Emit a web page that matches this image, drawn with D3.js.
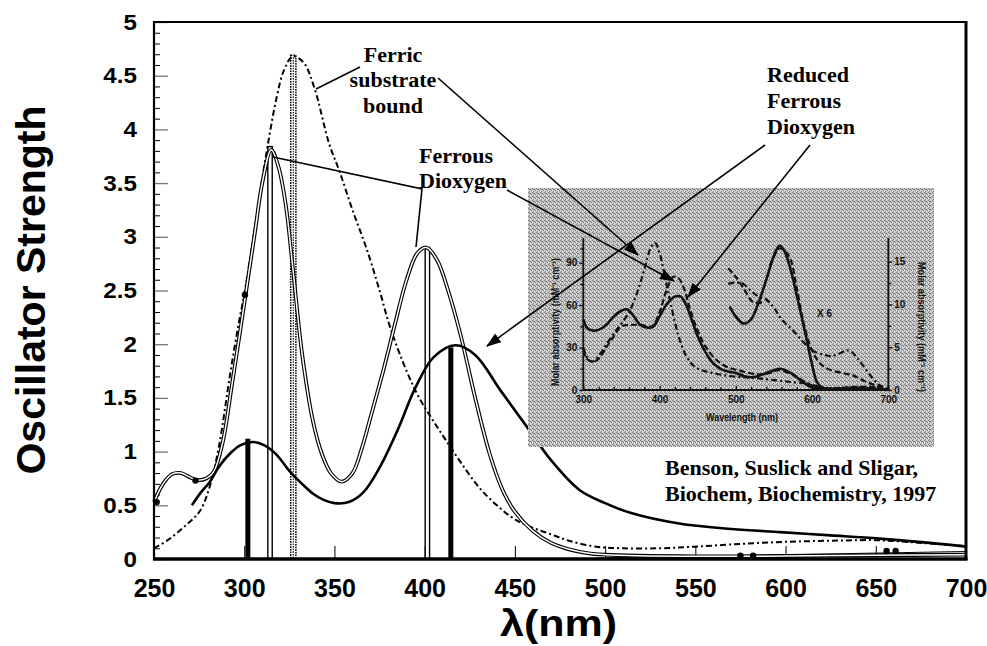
<!DOCTYPE html>
<html><head><meta charset="utf-8">
<script src="https://cdn.jsdelivr.net/npm/d3@7"></script>
<style>body{margin:0;background:#fff}svg{display:block}</style>
</head><body><svg id="c" width="987" height="646"></svg>
<script>
// ---------- data ----------
const xTickVals = [250,300,350,400,450,500,550,600,650,700];
const yTickVals = [0,0.5,1,1.5,2,2.5,3,3.5,4,4.5,5];
const yTickLabels = ["0","0.5","1","1.5","2","2.5","3","3.5","4","4.5","5"];
const yMinorVals = [0.1,0.2,0.3,0.4,0.6,0.7,0.8,0.9,1.1,1.2,1.3,1.4,1.6,1.7,1.8,1.9,2.1,2.2,2.3,2.4,2.6,2.7,2.8,2.9,3.1,3.2,3.3,3.4,3.6,3.7,3.8,3.9,4.1,4.2,4.3,4.4,4.6,4.7,4.8,4.9];

// Ferrous dioxygen (double line)
const ferrousO2 = [[250,0.53],[255,0.70],[260,0.79],[265,0.80],[270,0.76],[274,0.735],[279,0.75],[283,0.81],[288,1.08],[293,1.6],[298,2.15],[302,2.6],[306,3.05],[310,3.5],[315,3.81],[319,3.65],[323,3.3],[327,2.7],[332,1.92],[338,1.29],[343,0.98],[348,0.8],[354,0.72],[360,0.8],[365,1.02],[370,1.32],[377,1.75],[383,2.15],[390,2.6],[396,2.85],[401,2.9],[407,2.78],[413,2.5],[420,2.08],[428,1.5],[436,0.98],[443,0.65],[450,0.44],[460,0.26],[470,0.15],[480,0.09],[490,0.055],[500,0.04],[550,0.025],[600,0.028],[650,0.035],[700,0.04]];
// Ferric substrate bound (dash-dot)
const ferricSub = [[250,0.1],[258,0.18],[266,0.29],[272,0.38],[276,0.46],[281,0.68],[286,1.05],[292,1.7],[297,2.2],[300,2.46],[306,3.1],[312,3.75],[318,4.3],[322,4.55],[327,4.68],[333,4.62],[339,4.38],[347,3.87],[353,3.6],[360,3.25],[368,2.88],[375,2.5],[381,2.15],[390,1.75],[397,1.5],[405,1.28],[412,1.1],[420,0.9],[430,0.67],[440,0.5],[450,0.37],[460,0.29],[470,0.23],[480,0.17],[495,0.115],[510,0.1],[530,0.1],[550,0.115],[575,0.14],[600,0.16],[625,0.17],[650,0.175],[675,0.15],[700,0.12]];
// Reduced ferrous dioxygen (solid)
const reducedO2 = [[271,0.5],[276,0.62],[281,0.72],[286,0.86],[292,0.98],[298,1.06],[305,1.09],[311,1.06],[318,0.97],[325,0.82],[332,0.7],[338,0.61],[344,0.55],[350,0.52],[358,0.53],[366,0.62],[375,0.85],[385,1.2],[395,1.6],[405,1.88],[417,1.99],[428,1.9],[442,1.57],[458,1.2],[470,0.92],[486,0.64],[500,0.52],[514,0.43],[541,0.33],[570,0.28],[597,0.25],[625,0.22],[652,0.19],[680,0.15],[700,0.115]];
// faint baseline trace
const baseTrace = [[495,0.01],[550,0.025],[600,0.04],[650,0.055],[700,0.07]];
// point markers
const dotPts = [[251.5,0.53],[273,0.73],[300.4,2.46],[656,0.075],[661,0.075],[575,0.03],[582,0.03]];
// stick spectra: [nm, strength, style]
const sticks = [[302,1.12,"solid"],[314.3,3.84,"double"],[327.2,4.69,"dotted"],[401.5,2.9,"double"],[414.5,1.97,"solid"]];

// inset (Benson et al.) data: [nm, absorptivity in left-axis units]
const insetTicksX = [300,400,500,600,700];
const insetMinorX = [320,340,360,380,420,440,460,480,520,540,560,580,620,640,660,680];
const insetTicksL = [0,30,60,90];
const insetMinorL = [15,45,75,100];
const insetTicksR = [0,5,10,15];
const insetMinorR = [2.5,7.5,12.5];
const inSolid = [[300,50],[305,44],[312,42],[320,42.5],[330,46],[340,52],[350,56],[357,57],[365,53],[375,46],[385,44],[392,45],[400,52],[410,61],[420,66],[428,66],[435,60],[442,50],[450,38],[460,27],[470,19],[480,15],[490,13],[500,12],[510,10],[520,9],[530,10],[540,12],[550,14],[558,15],[565,14],[575,11],[585,7],[595,3],[605,1],[620,0.5],[650,1.5],[680,1],[700,0]];
const inDash = [[300,28],[305,22],[312,20],[320,22],[330,30],[340,38],[350,45],[360,46],[375,46],[390,45],[400,55],[410,72],[418,80],[425,79],[432,72],[440,57],[450,42],[460,31],[475,21],[490,16],[510,13],[530,11],[545,12],[555,14],[570,12],[590,6],[605,2],[620,1],[650,2],[680,2],[700,0]];
const inDashDot = [[300,30],[306,22],[312,20],[320,24],[330,32],[340,40],[350,47],[360,55],[370,68],[380,85],[388,100],[394,104],[400,97],[407,80],[415,60],[425,38],[435,24],[445,17],[455,14],[470,12],[490,10],[510,9],[525,8.5],[550,7],[575,5.5],[595,4.5],[610,2],[630,1],[660,1.5],[690,1],[700,0]];
const inSolidX6 = [[492,59],[500,52],[510,47],[520,50],[530,62],[540,78],[550,95],[557,102],[563,99],[572,85],[582,62],[592,38],[600,18],[606,6],[612,2],[625,1]];
const inDashX6 = [[545,88],[557,100],[565,98],[572,92],[580,72],[590,45],[600,28],[612,18],[625,14],[640,12],[655,10],[670,6],[685,3],[700,0.5]];
const inDash2X6 = [[490,86],[500,80],[510,72],[523,62],[535,62]];
const inDashDotX6 = [[490,75],[500,76],[510,75],[520,70],[530,66],[540,64],[550,58],[560,50],[575,42],[590,33],[600,28],[615,25],[625,24],[637,26],[645,28],[652,27],[660,22],[670,15],[680,8],[690,3],[700,1]];

// ---------- drawing ----------
const svg = d3.select("#c");
const x = d3.scaleLinear().domain([250,700]).range([154,966]);
const y = d3.scaleLinear().domain([0,5]).range([559,22]);
const line = (sx, sy) => d3.line().x(d=>sx(d[0])).y(d=>sy(d[1])).curve(d3.curveCatmullRom.alpha(0.5));
const mainLine = line(x,y);

const defs = svg.append("defs");
const pat = defs.append("pattern").attr("id","ht").attr("width",4).attr("height",4).attr("patternUnits","userSpaceOnUse");
pat.append("rect").attr("width",4).attr("height",4).attr("fill","#c6c6c6");
[[0,0],[2,1],[1,3],[3,2],[1,1]].forEach(p=>pat.append("rect").attr("x",p[0]).attr("y",p[1]).attr("width",1).attr("height",1).attr("fill","#7e7e7e"));
[[2,3],[0,2]].forEach(p=>pat.append("rect").attr("x",p[0]).attr("y",p[1]).attr("width",1).attr("height",1).attr("fill","#eeeeee"));
const mk = defs.append("marker").attr("id","ah").attr("viewBox","0 0 14 10").attr("refX",13).attr("refY",5)
  .attr("markerWidth",15).attr("markerHeight",11).attr("markerUnits","userSpaceOnUse").attr("orient","auto");
mk.append("path").attr("d","M0,0 L14,5 L0,10 Z").attr("fill","#000");

// axes
const yMinor = d3.axisLeft(y).tickValues(yMinorVals).tickSize(-6).tickFormat("");
svg.append("g").attr("transform","translate(154,0)").call(yMinor)
  .call(g=>g.select(".domain").remove()).selectAll("line").attr("stroke","#000").attr("stroke-width",1);
const yAx = d3.axisLeft(y).tickValues(yTickVals).tickSize(-14).tickPadding(15.5).tickFormat((d,i)=>yTickLabels[i]);
const gy = svg.append("g").attr("transform","translate(154,0)").call(yAx);
gy.select(".domain").remove();
gy.selectAll("line").attr("stroke","#777").attr("stroke-width",1.3);
gy.selectAll("text").attr("font-family","Liberation Sans, Arial, sans-serif").attr("font-weight","bold")
  .attr("font-size",22).attr("fill","#000").attr("transform","scale(1.1,1)");
const xAx = d3.axisBottom(x).tickValues(xTickVals).tickSize(-13).tickPadding(20).tickFormat(d3.format("d"));
const gx = svg.append("g").attr("transform","translate(0,559)").call(xAx);
gx.select(".domain").remove();
gx.selectAll("line").attr("stroke","#000").attr("stroke-width",1);
gx.selectAll("text").attr("font-family","Liberation Sans, Arial, sans-serif").attr("font-weight","bold")
  .attr("font-size",25).attr("fill","#000");

// sticks
sticks.forEach(s=>{
  const cx = x(s[0]), top = y(s[1]), bot = y(0);
  if (s[2]==="solid") {
    svg.append("rect").attr("x",cx-2.5).attr("y",top).attr("width",5).attr("height",bot-top).attr("fill","#000");
  } else if (s[2]==="double") {
    svg.append("rect").attr("x",cx-2.2).attr("y",top).attr("width",4.4).attr("height",bot-top)
      .attr("fill","#fff").attr("stroke","#000").attr("stroke-width",1.4);
  } else {
    svg.append("rect").attr("x",cx-2.6).attr("y",top).attr("width",5.2).attr("height",bot-top)
      .attr("fill","#fff").attr("stroke","#000").attr("stroke-width",1.5).attr("stroke-dasharray","1.6,1");
    svg.append("line").attr("x1",cx).attr("x2",cx).attr("y1",top+2).attr("y2",bot)
      .attr("stroke","#222").attr("stroke-width",1.2).attr("stroke-dasharray","1.6,1");
  }
});

// curves
svg.append("path").attr("d",mainLine(baseTrace)).attr("fill","none").attr("stroke","#000").attr("stroke-width",1);
svg.append("path").attr("d",mainLine(ferricSub)).attr("fill","none").attr("stroke","#000")
  .attr("stroke-width",2).attr("stroke-dasharray","6,3,2,3");
svg.append("path").attr("d",mainLine(ferrousO2)).attr("fill","none").attr("stroke","#000").attr("stroke-width",3.8);
svg.append("path").attr("d",mainLine(ferrousO2)).attr("fill","none").attr("stroke","#fff").attr("stroke-width",1.5);
svg.append("path").attr("d",mainLine(reducedO2)).attr("fill","none").attr("stroke","#000").attr("stroke-width",2.6);
svg.selectAll(".dot").data(dotPts).join("circle").attr("cx",d=>x(d[0])).attr("cy",d=>y(d[1])).attr("r",3.2).attr("fill","#000");

// frame
svg.append("line").attr("x1",154).attr("x2",966).attr("y1",22).attr("y2",22).attr("stroke","#000").attr("stroke-width",2);
svg.append("line").attr("x1",154).attr("x2",154).attr("y1",21).attr("y2",560).attr("stroke","#000").attr("stroke-width",2.2);
svg.append("line").attr("x1",966).attr("x2",966).attr("y1",21).attr("y2",560).attr("stroke","#000").attr("stroke-width",3);
svg.append("line").attr("x1",153).attr("x2",967.5).attr("y1",559).attr("y2",559).attr("stroke","#000").attr("stroke-width",3.5);

// ---------- inset ----------
svg.append("rect").attr("x",528).attr("y",188).attr("width",406).attr("height",259).attr("fill","url(#ht)");
const ix = d3.scaleLinear().domain([300,700]).range([583.3,888.3]);
const iyL = d3.scaleLinear().domain([0,90]).range([390,262.7]);
const iyR = d3.scaleLinear().domain([0,15]).range([390,261.7]);
const inLine = line(ix,iyL);
const ink = "#111";
const ifont = "Liberation Sans, Arial, sans-serif";
svg.append("line").attr("x1",ix(300)).attr("x2",ix(300)).attr("y1",238).attr("y2",390).attr("stroke",ink).attr("stroke-width",1.8);
svg.append("line").attr("x1",ix(700)).attr("x2",ix(700)).attr("y1",238).attr("y2",390).attr("stroke",ink).attr("stroke-width",1.8);
svg.append("line").attr("x1",ix(300)).attr("x2",ix(700)).attr("y1",390).attr("y2",390).attr("stroke",ink).attr("stroke-width",2);
const styleInAx = g=>{g.select(".domain").remove(); g.selectAll("line").attr("stroke",ink).attr("stroke-width",1.4);
  g.selectAll("text").attr("font-family",ifont).attr("font-weight","bold").attr("font-size",10).attr("fill",ink);};
svg.append("g").attr("transform","translate(0,390)").call(d3.axisBottom(ix).tickValues(insetTicksX).tickSize(-4).tickPadding(6).tickFormat(d3.format("d"))).call(styleInAx);
svg.append("g").attr("transform","translate(0,390)").call(d3.axisBottom(ix).tickValues(insetMinorX).tickSize(-3).tickFormat("")).call(styleInAx);
svg.append("g").attr("transform",`translate(${ix(300)},0)`).call(d3.axisLeft(iyL).tickValues(insetTicksL).tickSize(4).tickPadding(2)).call(styleInAx);
svg.append("g").attr("transform",`translate(${ix(300)},0)`).call(d3.axisLeft(iyL).tickValues(insetMinorL).tickSize(3).tickFormat("")).call(styleInAx);
svg.append("g").attr("transform",`translate(${ix(700)},0)`).call(d3.axisRight(iyR).tickValues(insetTicksR).tickSize(4).tickPadding(2)).call(styleInAx);
svg.append("g").attr("transform",`translate(${ix(700)},0)`).call(d3.axisRight(iyR).tickValues(insetMinorR).tickSize(3).tickFormat("")).call(styleInAx);
svg.append("text").attr("x",742).attr("y",421).attr("text-anchor","middle").attr("font-family",ifont).attr("font-weight","bold")
  .attr("font-size",10).attr("fill",ink).attr("textLength",72).attr("lengthAdjust","spacingAndGlyphs").text("Wavelength (nm)");
svg.append("text").attr("transform","translate(559,322) rotate(-90)").attr("text-anchor","middle").attr("font-family",ifont)
  .attr("font-weight","bold").attr("font-size",10).attr("fill",ink).attr("textLength",128).attr("lengthAdjust","spacingAndGlyphs")
  .text("Molar absorptivity (mM⁻¹ cm⁻¹)");
svg.append("text").attr("transform","translate(918,327) rotate(90)").attr("text-anchor","middle").attr("font-family",ifont)
  .attr("font-weight","bold").attr("font-size",10).attr("fill",ink).attr("textLength",130).attr("lengthAdjust","spacingAndGlyphs")
  .text("Molar absorptivity (mM⁻¹ cm⁻¹)");
svg.append("text").attr("x",817).attr("y",317).attr("font-family",ifont).attr("font-weight","bold").attr("font-size",10).attr("fill",ink).text("X 6");
const inCurve = (data, w, dash) => svg.append("path").attr("d",inLine(data)).attr("fill","none").attr("stroke",ink)
  .attr("stroke-width",w).attr("stroke-dasharray",dash||null);
inCurve(inDashDot,2.2,"6,3,2,3");
inCurve(inDash,2.2,"6,3");
inCurve(inSolid,2.6);
inCurve(inDashDotX6,2.2,"6,3,2,3");
inCurve(inDashX6,2.2,"6,3");
inCurve(inDash2X6,2.2,"6,3");
inCurve(inSolidX6,2.6);

// ---------- annotations ----------
const seg = (pts, arrow) => svg.append("path").attr("d",d3.line()(pts)).attr("fill","none").attr("stroke","#000")
  .attr("stroke-width",1.6).attr("marker-end",arrow?"url(#ah)":null);
seg([[360,67],[316,89]]);
seg([[273,157],[422,189],[416,247]]);
seg([[438,78],[638,255]],true);
seg([[507,190],[674,281]],true);
seg([[765,145],[487,346]],true);
seg([[810,145],[688,297]],true);

const serif = "Liberation Serif, Times New Roman, serif";
const label = (txt, tx, ty, anchor) => svg.append("text").attr("x",tx).attr("y",ty).attr("text-anchor",anchor)
  .attr("font-family",serif).attr("font-weight","bold").attr("font-size",22).attr("fill","#000").text(txt);
label("Ferric",393,61.5,"middle");
label("substrate",393,86.5,"middle");
label("bound",393,112.5,"middle");
label("Ferrous",419,163,"start");
label("Dioxygen",419,188,"start");
label("Reduced",767,81.5,"start");
label("Ferrous",767,108,"start");
label("Dioxygen",767,133.5,"start");
label("Benson, Suslick and Sligar,",665,475,"start");
label("Biochem, Biochemistry, 1997",665,501,"start");

// axis titles
svg.append("text").attr("transform","translate(45,290) rotate(-90)").attr("text-anchor","middle")
  .attr("font-family","Liberation Sans, Arial, sans-serif").attr("font-weight","bold").attr("font-size",41)
  .attr("fill","#000").text("Oscillator Strength");
svg.append("text").attr("x",500).attr("y",636).attr("font-family","Liberation Sans, Arial, sans-serif")
  .attr("font-weight","bold").attr("font-size",36).attr("textLength",117).attr("lengthAdjust","spacingAndGlyphs")
  .attr("fill","#000").text("λ(nm)");
</script></body></html>
